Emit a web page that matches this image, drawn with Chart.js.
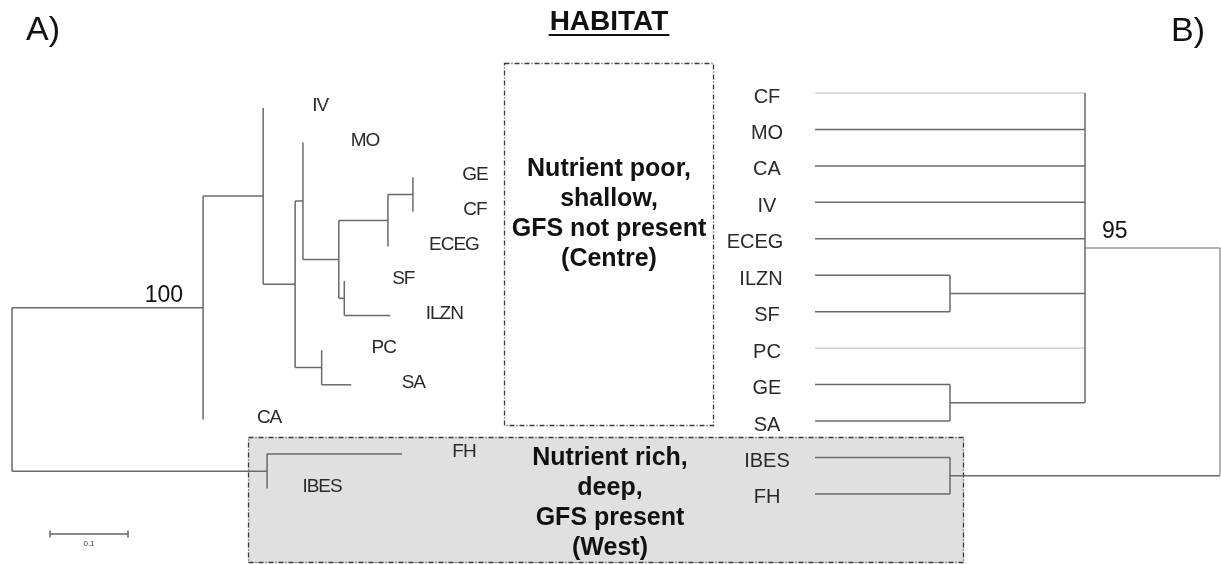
<!DOCTYPE html>
<html><head><meta charset="utf-8">
<script src="https://cdn.jsdelivr.net/npm/chart.js@4"></script>
<style>html,body{margin:0;padding:0;background:#fff;overflow:hidden}canvas{display:block}</style>
</head><body>
<canvas id="c" width="1221" height="564"></canvas>
<script>
// ---------- Panel A: phylogram (distance from root, substitutions / site) ----------
const leftLeaves = ['IV','MO','GE','CF','ECEG','SF','ILZN','PC','SA','CA','FH','IBES'];
const leftLeafDepth = [0.322,0.373,0.514,0.514,0.482,0.426,0.485,0.397,0.435,0.245,0.500,0.327];
const leftNodeNames = ['G','F','H','E','D','I','C','B','A','W','root'];
const leftNodeChildren = [['GE','CF'],['G','ECEG'],['SF','ILZN'],['F','H'],['MO','E'],['PC','SA'],['D','I'],['IV','C'],['B','CA'],['FH','IBES'],['A','W']];
const leftNodeDepth = [0.514,0.482,0.426,0.419,0.373,0.397,0.363,0.322,0.245,0.327,0];
const leftSupportNode = ['A'];
const leftSupportValue = ['100'];
const scaleBarValue = 0.1;

// ---------- Panel B: cladogram (node level) ----------
const rightLeaves = ['CF','MO','CA','IV','ECEG','ILZN','SF','PC','GE','SA','IBES','FH'];
const rightNodeNames = ['P','Q','R','S','root'];
const rightNodeChildren = [['ILZN','SF'],['GE','SA'],['IBES','FH'],['CF','MO','CA','IV','ECEG','P','PC','Q'],['S','R']];
const rightNodeLevel = [1,1,1,2,3];
const rightSupportNode = ['S'];
const rightSupportValue = ['95'];

// ---------- Text ----------
const centreText = ['Nutrient poor,','shallow,','GFS not present','(Centre)'];
const westText = ['Nutrient rich,','deep,','GFS present','(West)'];
const headerText = 'HABITAT';

// ---------- build tree geometry ----------
function buildTree(leaves, leafX, names, children, nodeX){
  const pos = {};
  leaves.forEach((n,i)=>{pos[n]={x:leafX[i],y:i};});
  const segs = [];
  names.forEach((n,k)=>{
    const ch = children[k].map(c=>pos[c]);
    const ys = ch.map(p=>p.y);
    const y0 = Math.min(...ys), y1 = Math.max(...ys);
    const x = nodeX[k];
    pos[n] = {x:x, y:(y0+y1)/2};
    segs.push({from:n, to:null, pts:[{x:x,y:y0},{x:x,y:y1}]});
    children[k].forEach(c=>{
      if (pos[c].x !== x) segs.push({from:n,to:c,pts:[{x:x,y:pos[c].y},{x:pos[c].x,y:pos[c].y}]});
    });
  });
  return {pos, segs};
}
const L = buildTree(leftLeaves, leftLeafDepth, leftNodeNames, leftNodeChildren, leftNodeDepth);
const R = buildTree(rightLeaves, rightLeaves.map(()=>0), rightNodeNames, rightNodeChildren, rightNodeLevel);

const datasets = [];
L.segs.forEach(s=>datasets.push({data:s.pts, xAxisID:'xL', yAxisID:'yL', showLine:true, pointRadius:0, borderColor:'#6a6a6a', borderWidth:1.5, clip:false}));
R.segs.forEach(s=>{
  let col = '#6a6a6a';
  if (s.to==='CF' || s.to==='PC') col = '#cfcfcf';
  if (s.from==='root' && s.to!=='R') col = '#9a9a9a';
  datasets.push({data:s.pts, xAxisID:'xR', yAxisID:'yR', showLine:true, pointRadius:0, borderColor:col, borderWidth:1.5, clip:false});
});

const FONT = '"Liberation Sans", Arial, Helvetica, sans-serif';
const leftLabelDx = {IV:-5, SF:-3, ILZN:-8, IBES:-7, ECEG:4, CA:4};
const rightLabelDx = {ECEG:-12, ILZN:-6};

const overlay = {
  id:'overlay',
  beforeDatasetsDraw(chart){
    const ctx = chart.ctx;
    ctx.save();
    ctx.fillStyle = '#e0e0e0';
    ctx.fillRect(248,437,716,126);
    ctx.setLineDash([5,2,1,2]);
    ctx.strokeStyle = '#3a3a3a';
    ctx.lineWidth = 1.3;
    ctx.strokeRect(248.5,437.5,715,125);
    ctx.strokeRect(504.5,63.5,209,362);
    ctx.restore();
  },
  afterDatasetsDraw(chart){
    const ctx = chart.ctx;
    const xL = chart.scales.xL, yL = chart.scales.yL, xR = chart.scales.xR, yR = chart.scales.yR;
    ctx.save();
    // left leaf labels
    ctx.fillStyle = '#2a2a2a';
    ctx.font = '19px ' + FONT;
    ctx.textAlign = 'center'; ctx.textBaseline = 'middle';
    ctx.letterSpacing = '-1px';
    leftLeaves.forEach((n,i)=>{
      const x = xL.getPixelForValue(leftLeafDepth[i]) + 62 + (leftLabelDx[n]||0);
      const y = yL.getPixelForValue(i) - 2;
      ctx.fillText(n, x, y);
    });
    ctx.letterSpacing = '0px';
    // right leaf labels
    ctx.font = '20px ' + FONT;
    rightLeaves.forEach((n,i)=>{
      const x = 767 + (rightLabelDx[n]||0);
      const y = yR.getPixelForValue(i) + 4;
      ctx.fillText(n, x, y);
    });
    // support values
    ctx.fillStyle = '#111';
    ctx.font = '23px ' + FONT;
    ctx.textAlign = 'right';
    leftSupportNode.forEach((n,k)=>{
      const p = L.pos[n];
      ctx.fillText(leftSupportValue[k], xL.getPixelForValue(p.x) - 20, yL.getPixelForValue(p.y) - 12);
    });
    ctx.textAlign = 'left';
    rightSupportNode.forEach((n,k)=>{
      const p = R.pos[n];
      ctx.fillText(rightSupportValue[k], xR.getPixelForValue(p.x) + 17, yR.getPixelForValue(p.y) - 16);
    });
    // scale bar
    const sx0 = 50, sy = 534;
    const sx1 = sx0 + (xL.getPixelForValue(scaleBarValue) - xL.getPixelForValue(0));
    ctx.strokeStyle = '#666'; ctx.lineWidth = 1.5;
    ctx.beginPath();
    ctx.moveTo(sx0,sy); ctx.lineTo(sx1,sy);
    ctx.moveTo(sx0,sy-3.5); ctx.lineTo(sx0,sy+3.5);
    ctx.moveTo(sx1,sy-3.5); ctx.lineTo(sx1,sy+3.5);
    ctx.stroke();
    ctx.fillStyle = '#444';
    ctx.font = '8px ' + FONT;
    ctx.textAlign = 'center';
    ctx.fillText(String(scaleBarValue), (sx0+sx1)/2, 544);
    // panel letters
    ctx.fillStyle = '#111';
    ctx.font = '34px ' + FONT;
    ctx.textAlign = 'left';
    ctx.fillText('A)', 26, 31);
    ctx.fillText('B)', 1171, 32);
    // habitat header
    ctx.font = 'bold 28px ' + FONT;
    ctx.textAlign = 'center';
    ctx.fillText(headerText, 609, 22);
    const w = ctx.measureText(headerText).width;
    ctx.fillRect(609 - w/2 - 1, 34, w + 2, 2);
    // box texts
    ctx.font = 'bold 25px ' + FONT;
    centreText.forEach((t,i)=>ctx.fillText(t, 609, 169 + i*30));
    westText.forEach((t,i)=>ctx.fillText(t, 610, 458 + i*30));
    ctx.restore();
  }
};

new Chart(document.getElementById('c'), {
  type:'scatter',
  data:{datasets},
  options:{
    responsive:false, animation:false, events:[],
    layout:{padding:0},
    plugins:{legend:{display:false}, tooltip:{enabled:false}},
    scales:{
      xL:{type:'linear', axis:'x', display:false, min:-12/780, max:1209/780},
      yL:{type:'linear', axis:'y', display:false, min:-108/34.6, max:(564-108)/34.6, reverse:true},
      xR:{type:'linear', axis:'x', display:false, min:-815/135, max:(1221-815)/135},
      yR:{type:'linear', axis:'y', display:false, min:-93/36.45, max:(564-93)/36.45, reverse:true}
    }
  },
  plugins:[overlay]
});
</script>
</body></html>
